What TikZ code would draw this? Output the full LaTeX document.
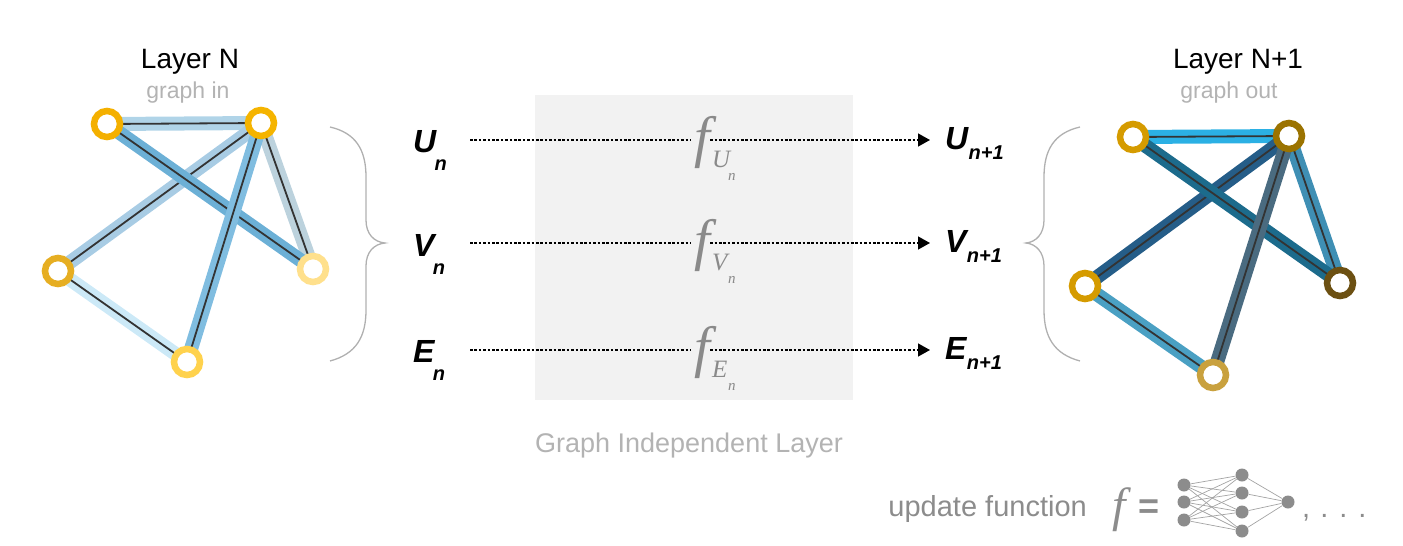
\documentclass[tikz,border=0pt]{standalone}
\usepackage{fontspec}
\setmainfont{Liberation Sans}
\newfontfamily\tms{Liberation Serif}
\usetikzlibrary{arrows.meta,backgrounds}
\definecolor{boxgray}{HTML}{F2F2F2}
\definecolor{lightgray}{HTML}{B3B3B3}
\definecolor{fgray}{HTML}{8A8A8A}
\definecolor{ngray}{HTML}{8C8C8C}
\definecolor{bracegray}{HTML}{B0B0B0}
\definecolor{linec}{HTML}{333333}
% left graph
\definecolor{lA}{HTML}{F4B000}
\definecolor{lB}{HTML}{F5B400}
\definecolor{lC}{HTML}{FFE08C}
\definecolor{lD}{HTML}{E6AE22}
\definecolor{lE}{HTML}{FFD24D}
\definecolor{lAB}{HTML}{B0D4E8}
\definecolor{lAC}{HTML}{6CB0D6}
\definecolor{lBD}{HTML}{A8CCE4}
\definecolor{lBE}{HTML}{80BDE0}
\definecolor{lBC}{HTML}{BCD2DD}
\definecolor{lDE}{HTML}{CCE9F7}
% right graph
\definecolor{rA}{HTML}{D59B00}
\definecolor{rB}{HTML}{9B7300}
\definecolor{rC}{HTML}{6C5012}
\definecolor{rD}{HTML}{D59B00}
\definecolor{rE}{HTML}{C9A13E}
\definecolor{rAB}{HTML}{2BB0E4}
\definecolor{rAC}{HTML}{1C6B8C}
\definecolor{rBD}{HTML}{255D88}
\definecolor{rBE}{HTML}{4A6B80}
\definecolor{rBC}{HTML}{3F8FB4}
\definecolor{rDE}{HTML}{4AA0C3}
\begin{document}
\begin{tikzpicture}[x=1pt,y=-1pt,
  gnode/.style={circle,draw=#1,line width=6.5pt,fill=white,minimum size=26pt,inner sep=0pt},
  gband/.style={line width=14pt,draw=#1},
  gcore/.style={line width=1.8pt,draw=linec},
  bracepath/.style={draw=bracegray,line width=1.3pt},
  title/.style={font=\fontsize{28}{32}\selectfont,text=black,inner sep=0pt,anchor=base},
  subtitle/.style={font=\fontsize{23}{26}\selectfont,text=lightgray,inner sep=0pt,anchor=base},
  varlab/.style={font=\fontsize{32}{36}\selectfont\bfseries\itshape,inner sep=0pt,anchor=base west},
  varsub/.style={font=\fontsize{20}{24}\selectfont\bfseries\itshape,inner sep=0pt,anchor=base west},
  fsym/.style={font=\fontsize{57}{60}\selectfont\tms\itshape,text=fgray,inner sep=0pt,anchor=base},
  fsub/.style={font=\fontsize{25}{28}\selectfont\tms\itshape,text=fgray,inner sep=0pt,anchor=base west},
  fsubsub/.style={font=\fontsize{15}{17}\selectfont\tms\itshape,text=fgray,inner sep=0pt,anchor=base west},
  dotl/.style={draw=black,line width=1.3pt,dash pattern=on 2.6pt off 1.8pt},
  nnode/.style={circle,fill=ngray,minimum size=13pt,inner sep=0pt},
  nnedge/.style={draw=ngray!80,line width=0.7pt}
]
\useasboundingbox (0,0) rectangle (1403,546);

% gray box
\node[fill=boxgray,minimum width=318pt,minimum height=305pt,inner sep=0pt] (gil) at (694,247.5) {};
\node[font=\fontsize{27}{30}\selectfont,text=lightgray,inner sep=0pt,anchor=base] (gillab) at (689,452) {Graph Independent Layer};

% titles
\node[title] (tN) at (190,68) {Layer N};
\node[subtitle] (tNs) at (188,98) {graph in};
\node[title] (tN1) at (1238,68) {Layer N+1};
\node[subtitle] (tN1s) at (1229,98) {graph out};

% left graph nodes
\node[gnode=lA] (a1) at (107,124) {};
\node[gnode=lB] (b1) at (261,123) {};
\node[gnode=lC] (c1) at (313,269) {};
\node[gnode=lD] (d1) at (58,271) {};
\node[gnode=lE] (e1) at (187,362) {};
% right graph nodes
\node[gnode=rA] (a2) at (1133,137) {};
\node[gnode=rB] (b2) at (1289,136) {};
\node[gnode=rC] (c2) at (1340,283) {};
\node[gnode=rD] (d2) at (1085,286) {};
\node[gnode=rE] (e2) at (1213,375) {};

\begin{scope}[on background layer]
  \foreach \p/\q/\c in {d1/e1/lDE, b1/c1/lBC, a1/b1/lAB, b1/d1/lBD, a1/c1/lAC, b1/e1/lBE,
                        d2/e2/rDE, b2/c2/rBC, a2/b2/rAB, b2/d2/rBD, a2/c2/rAC, b2/e2/rBE}{
    \draw[gband=\c] (\p.center) -- (\q.center);
    \draw[gcore] (\p.center) -- (\q.center);
  }
\end{scope}

% braces
\draw[bracepath] (330,127) .. controls (356,133) and (366,150) .. (366,177) -- (366,220)
  .. controls (366,234) and (374,242) .. (385,243)
  .. controls (374,244) and (366,252) .. (366,266) -- (366,310)
  .. controls (366,337) and (356,354) .. (330,361);
\draw[bracepath] (1080,127) .. controls (1054,133) and (1044,150) .. (1044,177) -- (1044,220)
  .. controls (1044,234) and (1036,242) .. (1026,243)
  .. controls (1036,244) and (1044,252) .. (1044,266) -- (1044,310)
  .. controls (1044,337) and (1054,354) .. (1080,361);

% row coordinates
\coordinate (rowU) at (470,140);
\coordinate (rowV) at (470,243);
\coordinate (rowE) at (470,350);

% left labels
\node[varlab] (Ul) at (413,152) {U};
\node[varsub] (Uls) at ([xshift=-2pt,yshift=-18pt]Ul.base east) {n};
\node[varlab] (Vl) at (413,256) {V};
\node[varsub] (Vls) at ([xshift=-2pt,yshift=-18pt]Vl.base east) {n};
\node[varlab] (El) at (413,362) {E};
\node[varsub] (Els) at ([xshift=-2pt,yshift=-18pt]El.base east) {n};

% right labels
\node[varlab] (Ur) at (945,149) {U};
\node[varsub] (Urs) at ([yshift=-10pt]Ur.base east) {n+1};
\node[varlab] (Vr) at (945,252) {V};
\node[varsub] (Vrs) at ([yshift=-10pt]Vr.base east) {n+1};
\node[varlab] (Er) at (945,359) {E};
\node[varsub] (Ers) at ([yshift=-10pt]Er.base east) {n+1};

% f symbols
\node[fsym] (fU) at (702,156) {f};
\node[fsub] (fUs) at (712,167) {U};
\node[fsubsub] (fUss) at (728,180) {n};
\node[fsym] (fV) at (702,259) {f};
\node[fsub] (fVs) at (712,270) {V};
\node[fsubsub] (fVss) at (728,283) {n};
\node[fsym] (fE) at (702,366) {f};
\node[fsub] (fEs) at (712,377) {E};
\node[fsubsub] (fEss) at (728,390) {n};

% dotted arrows
\draw[dotl,shorten >=3pt] (rowU) -- (fU.west |- rowU);
\draw[dotl,-{Triangle[length=12pt,width=13pt]},shorten >=15pt] (fU.east |- rowU) -- (Ur.west |- rowU);
\draw[dotl,shorten >=3pt] (rowV) -- (fV.west |- rowV);
\draw[dotl,-{Triangle[length=12pt,width=13pt]},shorten >=15pt] (fV.east |- rowV) -- (Vr.west |- rowV);
\draw[dotl,shorten >=3pt] (rowE) -- (fE.west |- rowE);
\draw[dotl,-{Triangle[length=12pt,width=13pt]},shorten >=15pt] (fE.east |- rowE) -- (Er.west |- rowE);

% update function legend
\node[font=\fontsize{29}{32}\selectfont,text=ngray,inner sep=0pt,anchor=base east] (upd) at (1087,516) {update function};
\node[font=\fontsize{48}{50}\selectfont\tms\itshape,text=ngray,inner sep=0pt,anchor=base] (uf) at (1119,521) {f};
\node[font=\fontsize{36}{40}\selectfont\bfseries,text=ngray,inner sep=0pt,anchor=base] (ueq) at (1149,518) {=};
\node[nnode] (i1) at (1184,485) {};
\node[nnode] (i2) at (1184,502) {};
\node[nnode] (i3) at (1184,520) {};
\node[nnode] (h1) at (1242,475) {};
\node[nnode] (h2) at (1242,493) {};
\node[nnode] (h3) at (1242,512) {};
\node[nnode] (h4) at (1242,531) {};
\node[nnode] (o1) at (1288,502) {};
\begin{scope}[on background layer]
  \foreach \i in {i1,i2,i3}{\foreach \h in {h1,h2,h3,h4}{\draw[nnedge] (\i) -- (\h);}}
  \foreach \h in {h1,h2,h3,h4}{\draw[nnedge] (\h) -- (o1);}
\end{scope}
\node[font=\fontsize{29}{32}\selectfont,text=ngray,inner sep=0pt,anchor=base west] (udots) at (1302,517) {,\hspace{10pt}.\hspace{11pt}.\hspace{11pt}.};
\end{tikzpicture}
\end{document}
